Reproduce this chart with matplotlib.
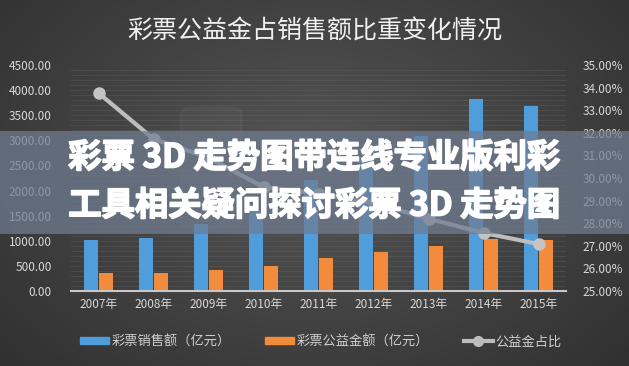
import numpy as np
import matplotlib
matplotlib.use('Agg')
import matplotlib.pyplot as plt
from matplotlib.patches import Rectangle, Patch, FancyBboxPatch
from matplotlib.lines import Line2D
from matplotlib import patheffects as pe

plt.rcParams['font.family'] = ['Noto Sans CJK SC', 'DejaVu Sans']

years = ['2007年', '2008年', '2009年', '2010年', '2011年', '2012年', '2013年', '2014年', '2015年']
sales = [1020, 1065, 1340, 1620, 2215, 2615, 3095, 3825, 3680]      # 彩票销售额（亿元）
welfare = [360, 360, 420, 500, 650, 770, 890, 1040, 1010]           # 彩票公益金额（亿元）
ratio = [33.76, 31.73, 30.9, 29.6, 29.3, 28.9, 28.2, 27.57, 27.08]  # 公益金占比 %

W, H = 629, 366
fig = plt.figure(figsize=(W / 100, H / 100), dpi=100)

# dark radial background
yy, xx = np.mgrid[0:1:200j, 0:1:340j]
r = np.sqrt(((xx - 0.5) / 0.75) ** 2 + ((yy - 0.45) / 0.9) ** 2)
v = np.clip(0.335 - 0.16 * r, 0.17, 0.34)
grad = np.dstack([v, v, v])
bg = fig.add_axes([0, 0, 1, 1])
bg.imshow(grad, extent=[0, 1, 0, 1], aspect='auto', origin='upper')
bg.axis('off')

ax = fig.add_axes([71 / W, 75 / H, 495 / W, 226 / H])
ax.patch.set_alpha(0)
ax2 = ax.twinx()

x = np.arange(len(years))
# texture / grid lines
for g in np.arange(100, 4500, 100):
    ax.axhline(g, color='#5e5e5e', lw=0.5, alpha=0.6, zorder=0)

# faint phone watermark
ax.add_patch(FancyBboxPatch((1.55, 1300), 1.0, 2300, boxstyle='round,pad=0.05,rounding_size=0.15',
                            mutation_aspect=1000, fc='#ffffff', ec='#ffffff', alpha=0.03, lw=2, zorder=0.5))

ax.bar(x - 0.135, sales, width=0.24, color='#4f9ddb', zorder=2)
ax.bar(x + 0.135, welfare, width=0.24, color='#f28b3c', zorder=2)
ax.set_xlim(-0.5, 8.5)
ax.set_ylim(0, 4500)
ax.set_yticks(np.arange(0, 4501, 500))
ax.set_yticklabels([f'{t:.2f}' for t in np.arange(0, 4501, 500)])
ax.set_xticks(x)
ax.set_xticklabels(years)

ax2.plot(x, ratio, color='#bdbdbd', lw=3, marker='o', ms=8, mfc='#c4c4c4', mec='#c4c4c4', zorder=3)
ax2.set_ylim(25, 35)
ax2.set_yticks(np.arange(25, 35.1, 1))
ax2.set_yticklabels([f'{t:.2f}%' for t in np.arange(25, 35.1, 1)])

for a in (ax, ax2):
    for s in a.spines.values():
        s.set_visible(False)
    a.tick_params(length=0, colors='#d8d8d8', labelsize=8.5)
ax.spines['bottom'].set_visible(True)
ax.spines['bottom'].set_color('#c8c8c8')
ax.spines['bottom'].set_linewidth(1.5)
ax.tick_params(axis='y', pad=14)
ax.tick_params(axis='x', pad=5)
ax2.tick_params(axis='y', pad=12)

fig.text(0.5, (H - 32) / H, '彩票公益金占销售额比重变化情况', ha='center', va='center',
         fontsize=18, color='#f0f0f0')

handles = [Patch(color='#4f9ddb'), Patch(color='#f28b3c'),
           Line2D([0], [0], color='#bdbdbd', lw=3, marker='o', ms=7)]
labels = ['彩票销售额（亿元）', '彩票公益金额（亿元）', '公益金占比']
fig.legend(handles, labels, loc='center', bbox_to_anchor=(0.51, (H - 342) / H), ncol=3,
           frameon=False, fontsize=9.5, labelcolor='#d0d0d0', handlelength=2.2,
           handleheight=0.45, handletextpad=0.2, columnspacing=2.6)

# overlay banner
fig.patches.append(Rectangle((0, (H - 234) / H), 1, 103 / H, transform=fig.transFigure,
                             facecolor='#707d92', alpha=0.72, zorder=5))
for yy_, txt in [(158, '彩票 3D 走势图带连线专业版利彩'), (206, '工具相关疑问探讨彩票 3D 走势图')]:
    fig.text(0.5, (H - yy_) / H, txt, ha='center', va='center', fontsize=24, fontweight='bold',
             color='white', zorder=6,
             path_effects=[pe.withStroke(linewidth=1.2, foreground='white')])

fig.savefig('out.png', dpi=100)
